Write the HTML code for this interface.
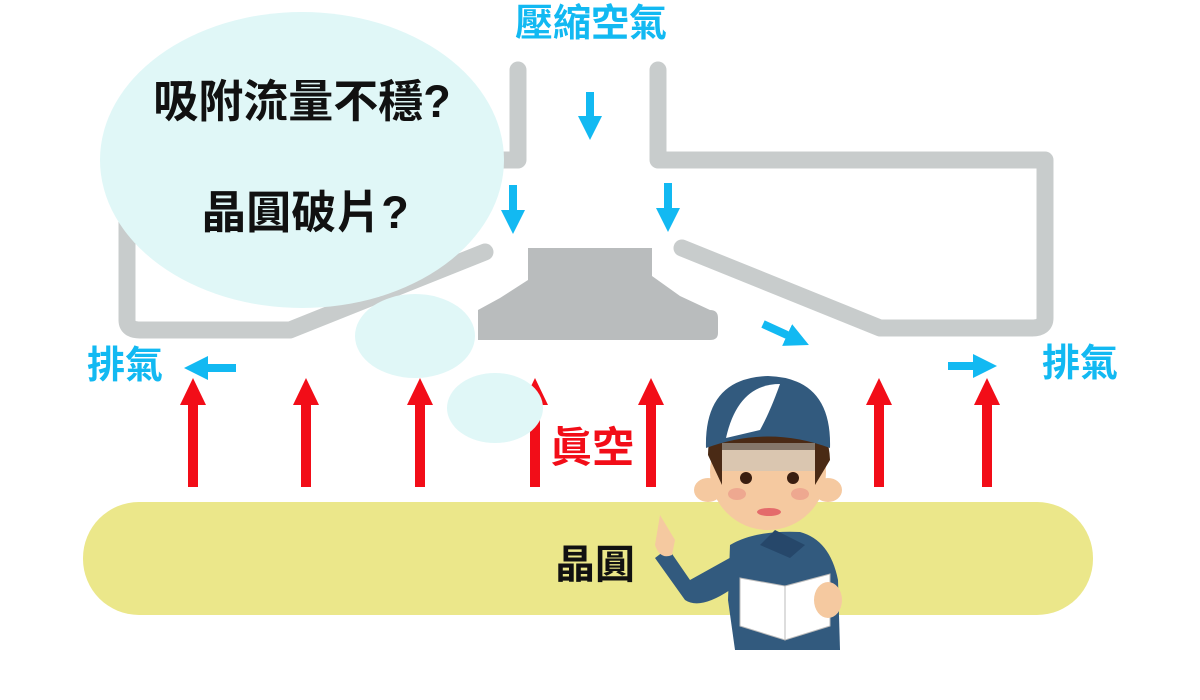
<!DOCTYPE html>
<html><head><meta charset="utf-8"><style>
html,body{margin:0;padding:0;background:#fff;width:1200px;height:700px;overflow:hidden}
text{font-family:"Liberation Sans","Noto Sans CJK TC",sans-serif}
</style></head><body>
<svg width="1200" height="700" viewBox="0 0 1200 700" xmlns="http://www.w3.org/2000/svg">
<defs>
<marker id="b" markerWidth="3" markerHeight="3" refX="1.5" refY="1.5" orient="auto" markerUnits="strokeWidth"><path d="M0,0 L3,1.5 L0,3z" fill="#12b9f2"/></marker>
<g id="ra"><rect x="-5" y="402" width="10" height="85"/><path d="M-13,405 L0,378 L13,405Z"/></g>
</defs>
<!-- pipes -->
<g fill="none" stroke="#c8cccc" stroke-width="17" stroke-linecap="round" stroke-linejoin="round">
<path d="M518,70 V160 H127 V320 Q127,330 140,330 H290 L485,252"/>
<path d="M658,70 V160 H1045 V318 Q1045,328 1032,328 H880 L682,248"/>
</g>
<!-- nozzle -->
<path d="M528,248 H652 V276 L680,296 L710,310 Q718,310 718,318 V333 Q718,340 710,340 H478 V310 L500,298 L528,280 Z" fill="#b9bcbd"/>
<!-- blue arrows -->
<g stroke="#12b9f2" stroke-width="8" fill="none">
<line x1="590" y1="92" x2="590" y2="128" marker-end="url(#b)"/>
<line x1="513" y1="185" x2="513" y2="222" marker-end="url(#b)"/>
<line x1="668" y1="183" x2="668" y2="220" marker-end="url(#b)"/>
<line x1="763" y1="324" x2="798" y2="340" marker-end="url(#b)"/>
<line x1="236" y1="368" x2="196" y2="368" marker-end="url(#b)"/>
<line x1="948" y1="366" x2="985" y2="366" marker-end="url(#b)"/>
</g>
<text x="591" y="36" font-size="38" font-weight="bold" fill="#12b9f2" text-anchor="middle">壓縮空氣</text>
<text x="125" y="378" font-size="38" font-weight="bold" fill="#12b9f2" text-anchor="middle">排氣</text>
<text x="1080" y="376" font-size="38" font-weight="bold" fill="#12b9f2" text-anchor="middle">排氣</text>
<!-- wafer -->
<rect x="83" y="502" width="1010" height="113" rx="56" fill="#ebe78a"/>
<text x="595" y="578" font-size="40" font-weight="bold" fill="#111" text-anchor="middle">晶圓</text>
<!-- red arrows -->
<g fill="#f20d18">
<use href="#ra" x="193"/><use href="#ra" x="306"/><use href="#ra" x="420"/><use href="#ra" x="535"/><use href="#ra" x="651"/><use href="#ra" x="879"/><use href="#ra" x="987"/>
</g>
<text x="592" y="462" font-size="42" font-weight="bold" fill="#f20d18" text-anchor="middle">眞空</text>
<!-- bubble -->
<g fill="#e0f7f7">
<ellipse cx="302" cy="160" rx="202" ry="148"/>
<ellipse cx="415" cy="336" rx="60" ry="42"/>
<ellipse cx="495" cy="408" rx="48" ry="35"/>
</g>
<text x="302" y="117" font-size="45" font-weight="bold" fill="#111" text-anchor="middle">吸附流量不穩?</text>
<text x="305" y="228" font-size="45" font-weight="bold" fill="#111" text-anchor="middle">晶圓破片?</text>
<!-- character -->
<g>
<path d="M730,545 Q755,530 800,532 Q830,540 838,580 L840,650 L735,650 L728,600Z" fill="#325a7e"/>
<path d="M735,555 L690,580 L668,548 L655,558 L685,600 Q700,610 730,590Z" fill="#325a7e"/>
<path d="M660,515 L675,540 L672,555 Q660,560 655,545 Z" fill="#f5c9a0"/>
<path d="M775,530 L760,545 L790,558 L805,545 Z" fill="#26476a"/>
<ellipse cx="768" cy="472" rx="58" ry="58" fill="#f5c9a0"/>
<ellipse cx="708" cy="490" rx="14" ry="12" fill="#f5c9a0"/>
<ellipse cx="828" cy="490" rx="14" ry="12" fill="#f5c9a0"/>
<path d="M708,455 Q708,405 768,403 Q828,405 830,460 L815,485 L815,450 H722 L722,485Z" fill="#4a2a15"/>
<path d="M706,448 Q704,378 768,376 Q832,378 830,448 Q768,425 706,448Z" fill="#325a7e"/>
<path d="M726,438 Q738,384 780,384 Q770,412 760,430Z" fill="#fff"/>
<rect x="722" y="443" width="93" height="28" fill="#c0c4bf" opacity="0.5"/>
<circle cx="746" cy="478" r="6" fill="#3a1e10"/><circle cx="793" cy="478" r="6" fill="#3a1e10"/>
<ellipse cx="737" cy="494" rx="9" ry="6" fill="#eea890"/><ellipse cx="800" cy="494" rx="9" ry="6" fill="#eea890"/>
<ellipse cx="769" cy="512" rx="12" ry="4" fill="#e46b6b"/>
<path d="M740,578 L785,586 L785,640 L740,626Z" fill="#fff" stroke="#bbb"/>
<path d="M785,586 L830,574 L830,626 L785,640Z" fill="#fff" stroke="#bbb"/>
<ellipse cx="828" cy="600" rx="14" ry="18" fill="#f5c9a0"/>
</g>
</svg>
</body></html>
